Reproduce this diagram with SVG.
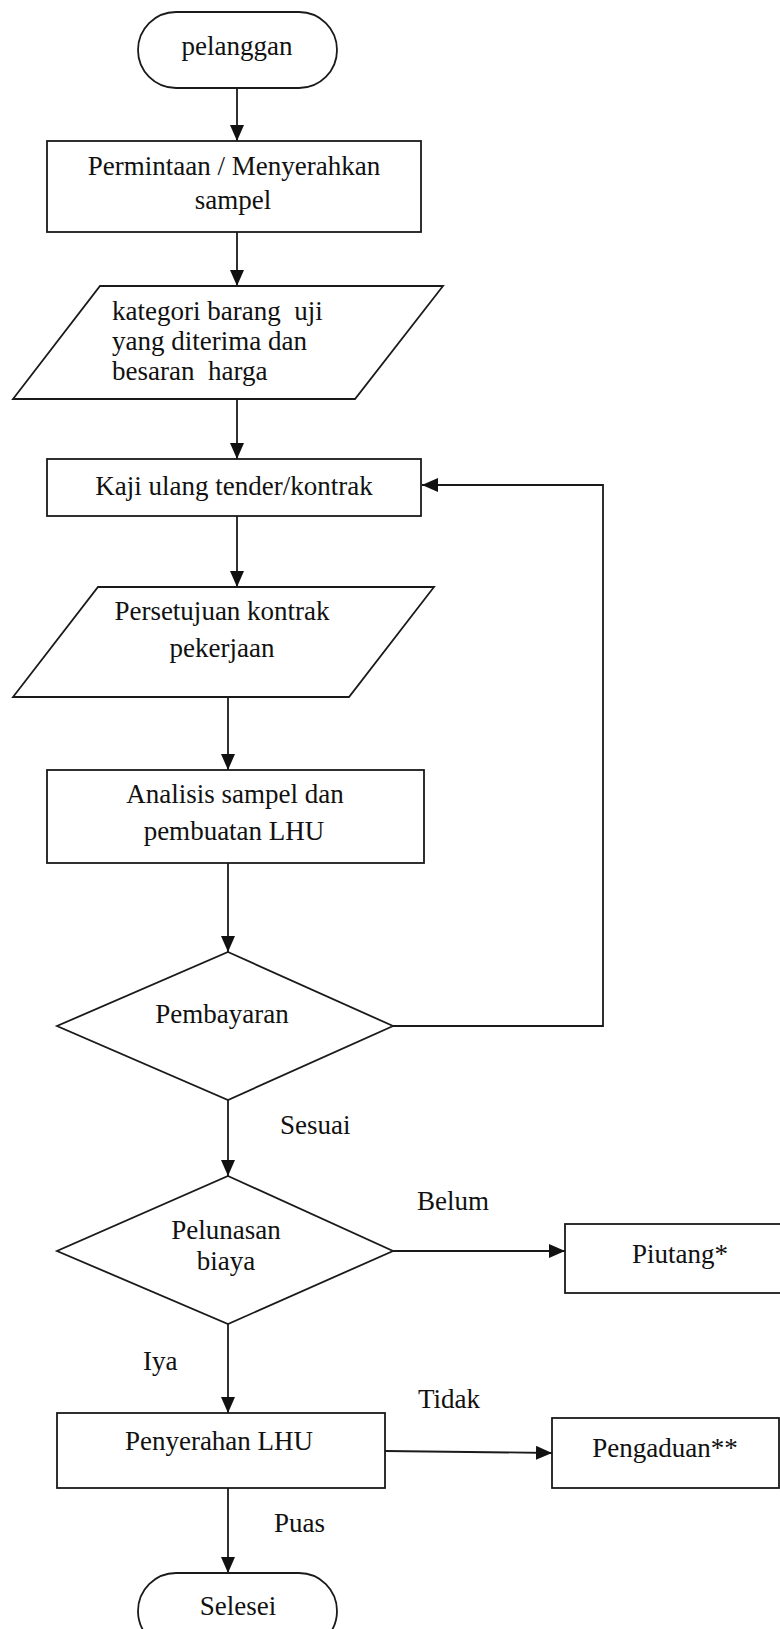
<svg xmlns="http://www.w3.org/2000/svg" width="780" height="1629" viewBox="0 0 780 1629">
<style>
.s{fill:#fff;stroke:#1a1a1a;stroke-width:1.8}
.c{fill:none;stroke:#1a1a1a;stroke-width:1.8}
text{font-family:"Liberation Serif","Times New Roman",serif;font-size:27px;fill:#111;white-space:pre}
.m{text-anchor:middle}
</style>
<defs>
<marker id="ah" markerUnits="userSpaceOnUse" markerWidth="16" markerHeight="14" viewBox="0 0 16 14" refX="16" refY="7" orient="auto">
<path d="M0,0 L16,7 L0,14 Z" fill="#111"/>
</marker>
</defs>
<g id="connectors">
<path class="c" d="M237,88 V141" marker-end="url(#ah)"/>
<path class="c" d="M237,232 V286" marker-end="url(#ah)"/>
<path class="c" d="M237,399 V459" marker-end="url(#ah)"/>
<path class="c" d="M237,516 V587" marker-end="url(#ah)"/>
<path class="c" d="M228,697 V770" marker-end="url(#ah)"/>
<path class="c" d="M228,863 V952" marker-end="url(#ah)"/>
<path class="c" d="M393,1026 H603 V485 H422" marker-end="url(#ah)"/>
<path class="c" d="M228,1100 V1176" marker-end="url(#ah)"/>
<path class="c" d="M393,1251 H565" marker-end="url(#ah)"/>
<path class="c" d="M228,1324 V1413" marker-end="url(#ah)"/>
<path class="c" d="M385,1451 L552,1453" marker-end="url(#ah)"/>
<path class="c" d="M228,1488 V1573" marker-end="url(#ah)"/>
<text x="280" y="1134">Sesuai</text>
<text x="417" y="1210">Belum</text>
<text x="143" y="1370">Iya</text>
<text x="418" y="1408">Tidak</text>
<text x="274" y="1532">Puas</text>
</g>
<g id="pelanggan">
<rect class="s" x="138" y="12" width="199" height="76" rx="38"/>
<text class="m" x="237" y="55">pelanggan</text>
</g>
<g id="permintaan">
<rect class="s" x="47" y="141" width="374" height="91"/>
<text class="m" x="234" y="175">Permintaan / Menyerahkan</text>
<text class="m" x="233" y="209">sampel</text>
</g>
<g id="kategori">
<polygon class="s" points="100,286 443,286 355,399 13,399"/>
<text x="112" y="320">kategori barang  uji</text>
<text x="112" y="350">yang diterima dan</text>
<text x="112" y="380">besaran  harga</text>
</g>
<g id="kaji">
<rect class="s" x="47" y="459" width="374" height="57"/>
<text class="m" x="234" y="495">Kaji ulang tender/kontrak</text>
</g>
<g id="persetujuan">
<polygon class="s" points="98,587 434,587 349,697 13,697"/>
<text class="m" x="222" y="620">Persetujuan kontrak</text>
<text class="m" x="222" y="657">pekerjaan</text>
</g>
<g id="analisis">
<rect class="s" x="47" y="770" width="377" height="93"/>
<text class="m" x="235" y="803">Analisis sampel dan</text>
<text class="m" x="234" y="840">pembuatan LHU</text>
</g>
<g id="pembayaran">
<polygon class="s" points="228,952 393,1026 228,1100 57,1026"/>
<text class="m" x="222" y="1023">Pembayaran</text>
</g>
<g id="pelunasan">
<polygon class="s" points="228,1176 393,1251 228,1324 57,1251"/>
<text class="m" x="226" y="1239">Pelunasan</text>
<text class="m" x="226" y="1270">biaya</text>
</g>
<g id="piutang">
<rect class="s" x="565" y="1224" width="218" height="69"/>
<text class="m" x="680" y="1263">Piutang*</text>
</g>
<g id="penyerahan">
<rect class="s" x="57" y="1413" width="328" height="75"/>
<text class="m" x="219" y="1450">Penyerahan LHU</text>
</g>
<g id="pengaduan">
<rect class="s" x="552" y="1418" width="227" height="70"/>
<text class="m" x="665" y="1457">Pengaduan**</text>
</g>
<g id="selesei">
<rect class="s" x="138" y="1573" width="199" height="76" rx="38"/>
<text class="m" x="238" y="1615">Selesei</text>
</g>
</svg>
